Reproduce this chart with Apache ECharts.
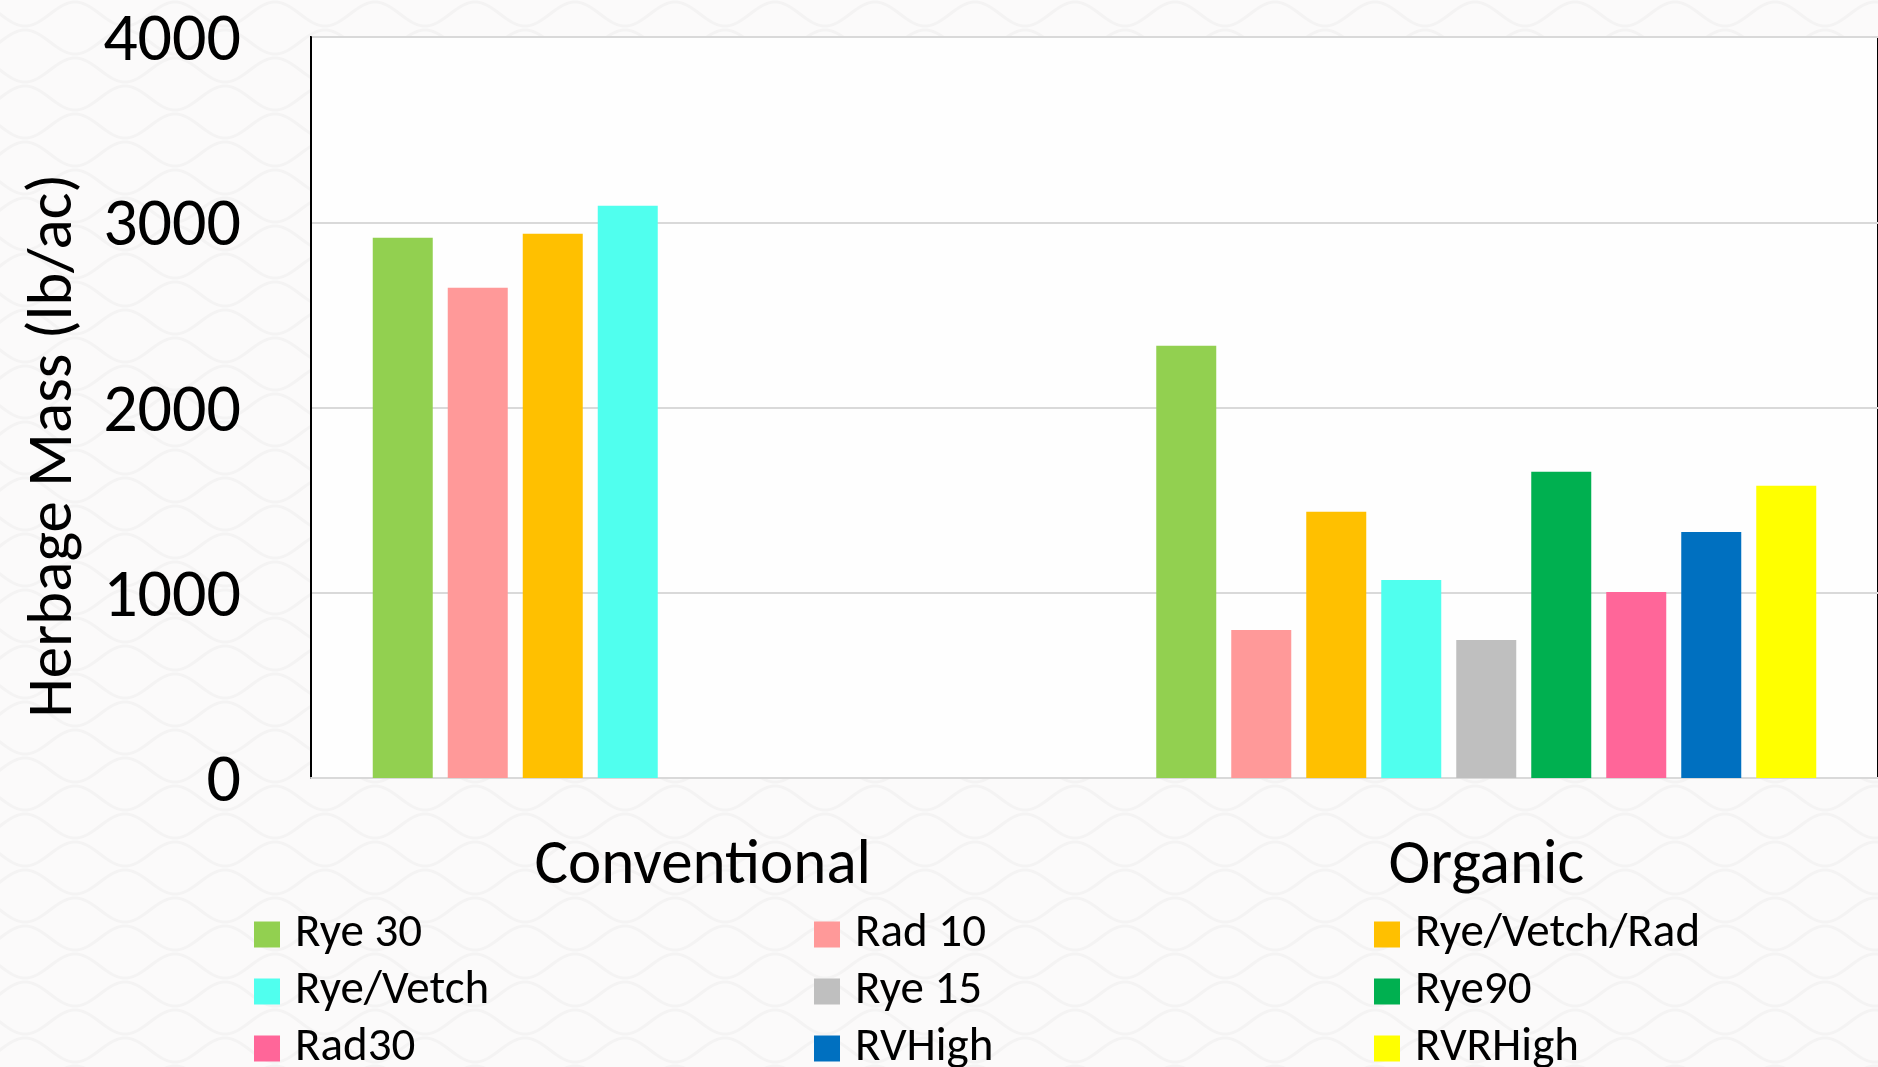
<!DOCTYPE html>
<html>
<head>
<meta charset="utf-8">
<title>Herbage Mass</title>
<script src="https://cdn.jsdelivr.net/npm/echarts@6/dist/echarts.min.js"></script>
<style>
  html, body { margin: 0; padding: 0; background: #fbfafa; }
  #chart { width: 1878px; height: 1067px; }
</style>
</head>
<body>
<div id="chart"></div>
<script>
// Cover-crop herbage mass by system (lb/ac)
const categories = ['Conventional', 'Organic'];

const seriesNames = ['Rye 30', 'Rad 10', 'Rye/Vetch/Rad', 'Rye/Vetch', 'Rye 15', 'Rye90', 'Rad30', 'RVHigh', 'RVRHigh'];
const seriesColors = ['#92d050', '#ff9999', '#ffc000', '#50ffee', '#bfbfbf', '#00b050', '#ff6699', '#0070c0', '#ffff00'];

const rye30       = [2916, 2333];
const rad10       = [2646, 799];
const ryeVetchRad = [2938, 1437];
const ryeVetch    = [3089, 1069];
const rye15       = [null, 745];
const rye90       = [null, 1653];
const rad30       = [null, 1004];
const rvHigh      = [null, 1328];
const rvrHigh     = [null, 1577];

const seriesValues = [rye30, rad10, ryeVetchRad, ryeVetch, rye15, rye90, rad30, rvHigh, rvrHigh];

// Legend columns (three columns, read row by row)
const legendColumns = [
  ['Rye 30', 'Rye/Vetch', 'Rad30'],
  ['Rad 10', 'Rye 15', 'RVHigh'],
  ['Rye/Vetch/Rad', 'Rye90', 'RVRHigh']
];

const FONT = 'Carlito, Lato, "Open Sans", sans-serif';

// Soft wave texture for the page background
function makeWaveTile() {
  const c = document.createElement('canvas');
  const w = 100, h = 56;
  c.width = w; c.height = h;
  const g = c.getContext('2d');
  g.fillStyle = '#fbfafa';
  g.fillRect(0, 0, w, h);
  g.strokeStyle = '#f4f3f3';
  g.lineWidth = 3;
  for (let row = -1; row < 3; row++) {
    const y0 = row * 28 + 14;
    const phase = (row % 2) * 50;
    g.beginPath();
    for (let x = -2; x <= w + 2; x++) {
      const y = y0 + 12 * Math.sin(((x + phase) / w) * Math.PI * 2);
      if (x === -2) g.moveTo(x, y); else g.lineTo(x, y);
    }
    g.stroke();
  }
  return c;
}

const chart = echarts.init(document.getElementById('chart'), null, { renderer: 'canvas' });

const option = {
  backgroundColor: 'transparent',
  animation: false,
  graphic: [{
    type: 'rect',
    z: -10,
    silent: true,
    shape: { x: 0, y: 0, width: 1878, height: 1067 },
    style: { fill: { image: makeWaveTile(), repeat: 'repeat' } }
  }],
  grid: {
    left: 311,
    right: -2,
    top: 37,
    bottom: 289,
    show: true,
    backgroundColor: '#fefefe',
    borderColor: '#000',
    borderWidth: 2
  },
  legend: legendColumns.map((col, i) => ({
    data: col,
    orient: 'vertical',
    left: 254 + i * 560,
    top: 911,
    height: 300,
    padding: 0,
    itemWidth: 26,
    itemHeight: 26,
    itemGap: 10,
    icon: 'rect',
    selectedMode: false,
    textStyle: {
      fontFamily: FONT,
      fontSize: 47,
      lineHeight: 46,
      color: '#000',
      padding: [0, 0, 0, 10]
    }
  })),
  xAxis: {
    type: 'category',
    data: categories,
    axisLine: { show: true, lineStyle: { color: '#d9d9d9', width: 2 } },
    axisTick: { show: false },
    axisLabel: {
      fontFamily: FONT,
      fontSize: 63,
      lineHeight: 63,
      color: '#000',
      margin: 58
    }
  },
  yAxis: {
    type: 'value',
    min: 0,
    max: 4000,
    interval: 1000,
    name: 'Herbage Mass (lb/ac)',
    nameLocation: 'middle',
    nameRotate: 90,
    nameGap: 224,
    nameTextStyle: {
      fontFamily: FONT,
      fontSize: 63,
      color: '#000',
      padding: [0, 76, 0, 0]
    },
    axisLine: { show: true, lineStyle: { color: '#000', width: 2 } },
    axisTick: { show: false },
    splitLine: { show: true, lineStyle: { color: '#d9d9d9', width: 2 } },
    axisLabel: {
      fontFamily: FONT,
      fontSize: 68,
      color: '#000',
      margin: 70,
      verticalAlign: 'top',
      lineHeight: 12,
      formatter: (v) => String(v)
    }
  },
  series: seriesNames.map((name, i) => ({
    name: name,
    type: 'bar',
    data: seriesValues[i],
    barWidth: 60,
    barGap: '25%',
    itemStyle: { color: seriesColors[i] }
  }))
};

chart.setOption(option);
</script>
</body>
</html>
